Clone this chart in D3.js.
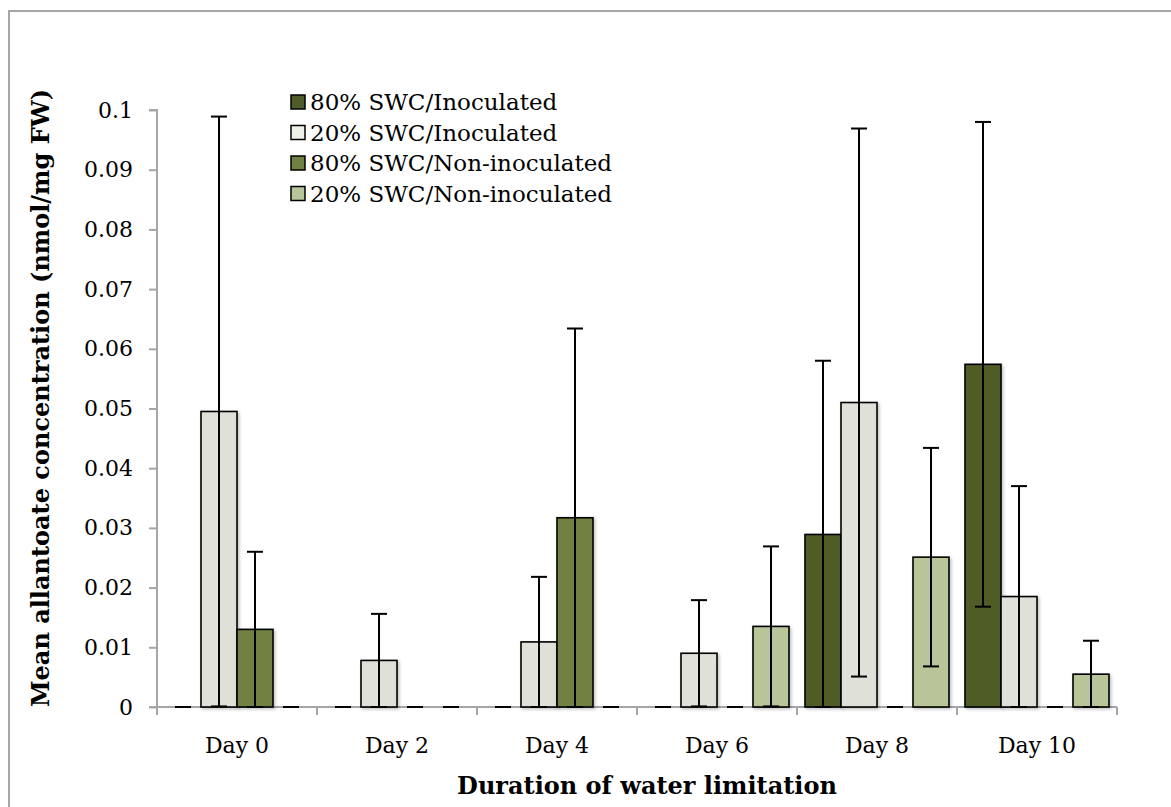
<!DOCTYPE html>
<html>
<head>
<meta charset="utf-8">
<script src="https://cdn.jsdelivr.net/npm/d3@7"></script>
<style>
  html, body { margin: 0; padding: 0; background: #fff; }
  svg { display: block; }
</style>
</head>
<body>
<svg id="chart" width="1171" height="807"></svg>
<script>
// Duration of water limitation (x categories)
const categories = ["Day 0", "Day 2", "Day 4", "Day 6", "Day 8", "Day 10"];

// Series names as shown in the legend
const seriesNames = [
  "80% SWC/Inoculated",
  "20% SWC/Inoculated",
  "80% SWC/Non-inoculated",
  "20% SWC/Non-inoculated"
];

// Mean allantoate concentration (nmol/mg FW)
const inoc80 = [0, 0, 0, 0, 0.0289, 0.0574];
const inoc20 = [0.0495, 0.0078, 0.0109, 0.0090, 0.0510, 0.0185];
const non80  = [0.0130, 0, 0.0317, 0, 0, 0];
const non20  = [0, 0, 0, 0.0135, 0.0251, 0.0055];

// Error bar half-widths
const inoc80Err = [0, 0, 0, 0, 0.0291, 0.0406];
const inoc20Err = [0.0494, 0.0078, 0.0109, 0.0089, 0.0459, 0.0185];
const non80Err  = [0.0130, 0, 0.0317, 0, 0, 0];
const non20Err  = [0, 0, 0, 0.0134, 0.0183, 0.0056];

// Y axis tick values
const yTicks = [0, 0.01, 0.02, 0.03, 0.04, 0.05, 0.06, 0.07, 0.08, 0.09, 0.1];

const colors = ["#4f5b28", "#dfe1d8", "#718143", "#b7c598"];
const legendColors = ["#4f5b28", "#eef1e7", "#718143", "#b7c598"];

const values = [inoc80, inoc20, non80, non20];
const errors = [inoc80Err, inoc20Err, non80Err, non20Err];

const svg = d3.select("#chart");
const font = "'DejaVu Serif', serif";

// Outer frame
svg.append("rect")
  .attr("x", 9).attr("y", 11)
  .attr("width", 1400).attr("height", 1000)
  .attr("fill", "none")
  .attr("stroke", "#a6a6a6")
  .attr("stroke-width", 2);

const plot = { left: 157, right: 1117, top: 110, bottom: 707 };

const x = d3.scaleBand()
  .domain(categories)
  .range([plot.left, plot.right]);

const barW = 36;
const xSub = d3.scaleBand()
  .domain(d3.range(seriesNames.length))
  .range([0, barW * seriesNames.length]);

const y = d3.scaleLinear()
  .domain([0, 0.1])
  .range([plot.bottom, plot.top]);

// Soft shadow under bars
const defs = svg.append("defs");
const f = defs.append("filter").attr("id", "shadow")
  .attr("x", "-20%").attr("y", "-20%").attr("width", "140%").attr("height", "140%");
f.append("feDropShadow")
  .attr("dx", 1.5).attr("dy", 1.5).attr("stdDeviation", 1.5)
  .attr("flood-color", "#000").attr("flood-opacity", 0.25);

// Y axis
const yAxis = svg.append("g")
  .attr("transform", `translate(${plot.left},0)`)
  .call(d3.axisLeft(y).tickValues(yTicks).tickSize(8).tickPadding(16)
    .tickFormat(d => d === 0 ? "0" : String(+d.toFixed(2))));
yAxis.select(".domain").attr("stroke", "#a6a6a6").attr("stroke-width", 2)
  .attr("d", `M-8,${plot.top}H0V${plot.bottom}`);
yAxis.selectAll(".tick line").attr("stroke", "#a6a6a6").attr("stroke-width", 2);
yAxis.selectAll(".tick text")
  .attr("font-family", font).attr("font-size", 22).attr("fill", "#000");

// X axis with ticks at category boundaries
const xAxisG = svg.append("g").attr("transform", `translate(0,${plot.bottom})`);
xAxisG.append("line")
  .attr("x1", plot.left - 8).attr("x2", plot.right)
  .attr("stroke", "#a6a6a6").attr("stroke-width", 2);
const boundaries = categories.map(c => x(c)).concat([plot.right]);
xAxisG.selectAll(".bt").data(boundaries).join("line")
  .attr("x1", d => d).attr("x2", d => d)
  .attr("y1", 0).attr("y2", 8)
  .attr("stroke", "#a6a6a6").attr("stroke-width", 2);
xAxisG.selectAll(".cl").data(categories).join("text")
  .attr("x", d => x(d) + x.bandwidth() / 2)
  .attr("y", 46)
  .attr("text-anchor", "middle")
  .attr("font-family", font).attr("font-size", 22)
  .text(d => d);

// Bars
const groups = svg.append("g").selectAll("g")
  .data(categories).join("g")
  .attr("transform", d => `translate(${x(d) + (x.bandwidth() - barW * 4) / 2},0)`);

groups.each(function(cat, ci) {
  const g = d3.select(this);
  values.forEach((vals, si) => {
    const v = vals[ci];
    if (v > 0) {
      g.append("rect")
        .attr("x", xSub(si))
        .attr("y", y(v))
        .attr("width", barW)
        .attr("height", y(0) - y(v))
        .attr("fill", colors[si])
        .attr("stroke", "#000")
        .attr("stroke-width", 1.6)
        .attr("filter", "url(#shadow)");
    }
  });
  // Error bars drawn over the bars
  values.forEach((vals, si) => {
    const v = vals[ci], e = errors[si][ci];
    const cx = xSub(si) + barW / 2;
    const hi = v + e, lo = Math.max(0, v - e);
    const cap = 8;
    g.append("line")
      .attr("x1", cx).attr("x2", cx)
      .attr("y1", y(hi)).attr("y2", y(lo))
      .attr("stroke", "#000").attr("stroke-width", 2);
    [hi, lo].forEach(t => {
      g.append("line")
        .attr("x1", cx - cap).attr("x2", cx + cap)
        .attr("y1", y(t)).attr("y2", y(t))
        .attr("stroke", "#000").attr("stroke-width", 2);
    });
  });
});

// Legend
const legend = svg.append("g").attr("transform", "translate(291,102)");
seriesNames.forEach((name, i) => {
  const row = legend.append("g").attr("transform", `translate(0,${i * 30.5})`);
  row.append("rect")
    .attr("x", 0).attr("y", -7)
    .attr("width", 14).attr("height", 14)
    .attr("fill", legendColors[i])
    .attr("stroke", "#000").attr("stroke-width", 1.5);
  row.append("text")
    .attr("x", 19).attr("y", 0)
    .attr("dominant-baseline", "central")
    .attr("font-family", font).attr("font-size", 23)
    .text(name);
});

// Axis titles
svg.append("text")
  .attr("transform", "translate(40,398) rotate(-90)")
  .attr("text-anchor", "middle")
  .attr("dominant-baseline", "central")
  .attr("font-family", font).attr("font-size", 24).attr("font-weight", "bold")
  .text("Mean allantoate concentration (nmol/mg FW)");

svg.append("text")
  .attr("x", 647).attr("y", 785)
  .attr("text-anchor", "middle")
  .attr("dominant-baseline", "central")
  .attr("font-family", font).attr("font-size", 24).attr("font-weight", "bold")
  .text("Duration of water limitation");
</script>
</body>
</html>
